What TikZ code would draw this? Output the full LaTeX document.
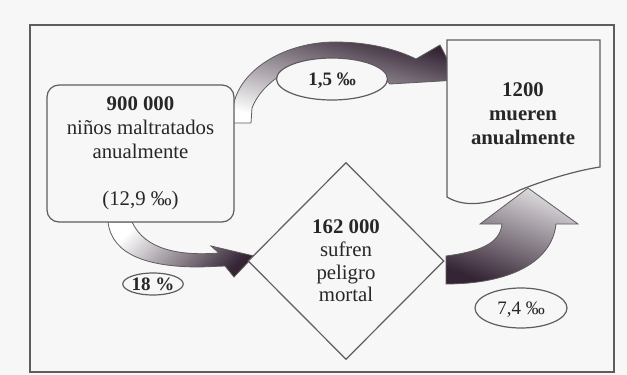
\documentclass[tikz,border=0pt]{standalone}
\usepackage{fontspec}
\setmainfont{Liberation Serif}
\usetikzlibrary{shapes.geometric}
\definecolor{fondo}{RGB}{248,247,248}
\definecolor{linea}{RGB}{95,92,95}
\definecolor{flecha_osc}{RGB}{52,36,52}
\definecolor{texto}{RGB}{40,38,40}

\tikzset{
  caja/.style={draw=linea, line width=0.6pt, fill=fondo, text=texto,
               rounded corners=6pt, align=center, inner sep=0pt,
               minimum width=93.5pt, minimum height=68.5pt,
               font=\fontsize{10.4}{12}\selectfont},
  rombo/.style={draw=linea, line width=0.6pt, fill=fondo, text=texto,
                shape=diamond, aspect=1, align=center, inner sep=0pt,
                minimum width=98pt, minimum height=98.5pt,
                font=\fontsize{10.4}{11.3}\selectfont},
  porc/.style={draw=linea, line width=0.6pt, fill=fondo, text=texto,
               shape=ellipse, inner sep=0pt, text height=6pt, text depth=0pt,
               font=\fontsize{9.5}{11}\selectfont},
  flecha/.style={draw=linea, line width=0.4pt}
}

\begin{document}
\begin{tikzpicture}[x=0.5pt, y=-0.5pt]
  \useasboundingbox[fill=fondo] (0,0) rectangle (627,375);
  \draw[linea, line width=0.75pt] (30,25) rectangle (614,372);

  % flecha superior
  \draw[flecha, top color=flecha_osc, middle color=flecha_osc!75, bottom color=white, shading angle=-15]
    (233,123) -- (233,108) .. controls (238,70) and (285,42) .. (335,42)
    .. controls (370,42) and (398,50) .. (416,59) -- (440,45) -- (458,80)
    -- (390,84) .. controls (375,70) and (355,61) .. (330,61)
    .. controls (295,61) and (262,82) .. (252,108) -- (251,123) -- cycle;
  % flecha inferior izquierda
  \draw[flecha, top color=white, bottom color=flecha_osc, shading angle=45]
    (108,222) .. controls (112,256) and (150,267) .. (200,267) -- (225,266)
    -- (234,277) -- (254,256) -- (211,246) -- (219,253)
    .. controls (180,256) and (145,250) .. (132,222) -- cycle;
  % flecha inferior derecha
  \draw[flecha, top color=white!85!flecha_osc, bottom color=flecha_osc, shading angle=-20]
    (446,256) .. controls (476,252) and (500,245) .. (502,224) -- (480,224)
    -- (528,188) -- (578,224) -- (556,224)
    .. controls (552,262) and (510,284) .. (446,284) -- cycle;

  \node[caja] (ninos) at (140.5,153.5) {\textbf{900 000}\\ niños maltratados\\ anualmente\\[11.5pt] (12,9 ‰)};
  \node[rombo] (peligro) at (346,261) {\textbf{162 000}\\ sufren\\ peligro\\ mortal};

  \node[porc, minimum width=55.5pt, minimum height=21pt] (p15) at (332,79) {\textbf{1,5 ‰}};
  \node[porc, minimum width=30pt, minimum height=11pt] (p18) at (153,284) {\textbf{18 \%}};
  \node[porc, minimum width=46pt, minimum height=20pt] (p74) at (521,308) {7,4 ‰};

  % documento
  \draw[draw=linea, line width=0.6pt, fill=fondo]
    (447,40) -- (600,40) -- (600,167) .. controls (580,170) and (550,178) .. (520,190)
    .. controls (490,205) and (465,208) .. (447,197) -- cycle;
  \node[text=texto, align=center, font=\fontsize{10.4}{12}\selectfont\bfseries] (mueren) at (523,114) {1200\\ mueren\\ anualmente};
\end{tikzpicture}
\end{document}
